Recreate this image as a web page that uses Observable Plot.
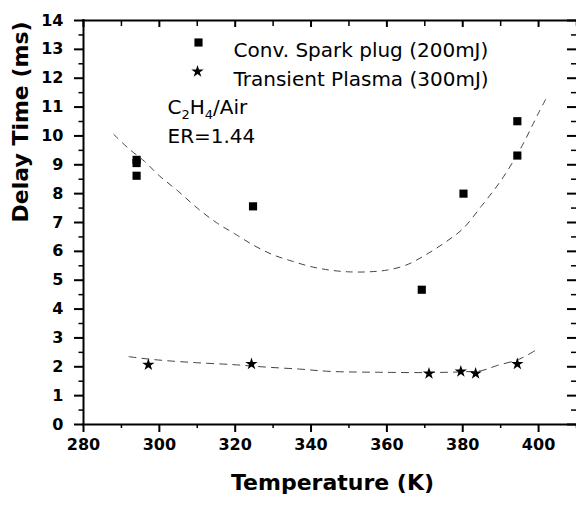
<!DOCTYPE html>
<html><head><meta charset="utf-8">
<script src="https://cdn.jsdelivr.net/npm/d3@7"></script>
<script src="https://cdn.jsdelivr.net/npm/@observablehq/plot@0.6"></script>
<style>
body{margin:0;background:#fff}
svg text{font-family:"DejaVu Sans"}
</style>
</head><body><div id="chart"></div>
<script>
// Conventional spark plug (200 mJ)
const sparkTemp  = [294, 294, 294, 324.7, 369.2, 380.2, 394.4, 394.4];
const sparkDelay = [9.17, 9.06, 8.62, 7.56, 4.67, 8.0, 10.51, 9.32];
// Transient plasma (300 mJ)
const plasmaTemp  = [297.1, 324.3, 371.1, 379.5, 383.4, 394.4];
const plasmaDelay = [2.07, 2.1, 1.77, 1.84, 1.77, 2.1];
// Dashed fit curves
const sparkFitT = [288, 292, 296, 300, 305, 310, 315, 320, 325, 330, 335, 340, 345, 350, 355, 360, 365, 370, 375, 380, 385, 390, 395, 400, 402];
const sparkFitD = [10.05, 9.55, 9.13, 8.62, 8.08, 7.5, 7.0, 6.6, 6.2, 5.88, 5.66, 5.47, 5.35, 5.29, 5.29, 5.35, 5.52, 5.86, 6.28, 6.78, 7.58, 8.44, 9.5, 10.8, 11.3];
const plasmaFitT = [292, 297, 302, 310, 320, 328, 337, 345, 358, 371, 381, 385, 389, 395, 399.3];
const plasmaFitD = [2.35, 2.27, 2.21, 2.14, 2.07, 1.99, 1.92, 1.84, 1.81, 1.80, 1.83, 1.87, 2.04, 2.27, 2.58];
// Axes
const xDomain = [280, 410];
const yDomain = [0, 14];
const xMajor = [280, 300, 320, 340, 360, 380, 400];
const xMinor = [290, 310, 330, 350, 370, 390, 410];
const yMajor = [0,1,2,3,4,5,6,7,8,9,10,11,12,13,14];
const yMinor = [0.5,1.5,2.5,3.5,4.5,5.5,6.5,7.5,8.5,9.5,10.5,11.5,12.5,13.5];
const legendLabels = ["Conv. Spark plug (200mJ)", "Transient Plasma (300mJ)"];
const annotation = ["C2H4/Air", "ER=1.44"];
const xTitle = "Temperature (K)";
const yTitle = "Delay Time (ms)";

const spark = sparkTemp.map((t, i) => ({t, d: sparkDelay[i]}));
const plasma = plasmaTemp.map((t, i) => ({t, d: plasmaDelay[i]}));
const sparkFit = sparkFitT.map((t, i) => ({t, d: sparkFitD[i]}));
const plasmaFit = plasmaFitT.map((t, i) => ({t, d: plasmaFitD[i]}));

// layout (pixels)
const W = 576, H = 506, L = 83, R = 576, T = 20, B = 424;
const ff = {fontFamily: "DejaVu Sans"};
const tickFont = {...ff, fontSize: 16, fontWeight: "bold"};
const ink = {stroke: "black"};

const chart = Plot.plot({
  width: W, height: H,
  marginLeft: 0, marginRight: 0, marginTop: 0, marginBottom: 0,
  x: {domain: xDomain, range: [L, R], axis: null},
  y: {domain: yDomain, range: [B, T], axis: null},
  marks: [
    // titles
    Plot.text([yTitle], {frameAnchor: "left", rotate: -90, dx: 20, dy: (T + B) / 2 - H / 2, fontSize: 22, fontWeight: "bold", ...ff}),
    Plot.text([xTitle], {frameAnchor: "bottom", dx: 44, dy: -17, fontSize: 22, fontWeight: "bold", ...ff}),
    // tick labels
    Plot.text(yMajor, {y: d => d, frameAnchor: "left", dx: L - 20, textAnchor: "end", ...tickFont}),
    Plot.text(xMajor, {x: d => d, frameAnchor: "bottom", dy: -(H - B - 14), lineAnchor: "top", ...tickFont}),
    // fit curves
    Plot.line(sparkFit, {x: "t", y: "d", curve: "catmull-rom", stroke: "#444", strokeWidth: 1, strokeDasharray: "6,6"}),
    Plot.line(plasmaFit, {x: "t", y: "d", curve: "catmull-rom", stroke: "#444", strokeWidth: 1, strokeDasharray: "7,6"}),
    // data
    Plot.dot(spark, {x: "t", y: "d", symbol: "square", fill: "black", r: 4.6}),
    Plot.dot(plasma, {x: "t", y: "d", symbol: "star", fill: "black", r: 3.9}),
    // legend
    Plot.dot([legendLabels[0]], {frameAnchor: "top-left", dx: 198, dy: 42, symbol: "square", fill: "black", r: 4.6}),
    Plot.dot([legendLabels[1]], {frameAnchor: "top-left", dx: 197, dy: 71, symbol: "star", fill: "black", r: 3.9}),
    Plot.text([legendLabels[0]], {frameAnchor: "top-left", dx: 233, dy: 42.6, textAnchor: "start", fontSize: 20, ...ff}),
    Plot.text([legendLabels[1]], {frameAnchor: "top-left", dx: 233, dy: 71.6, textAnchor: "start", fontSize: 20, ...ff}),
    // annotation
    Plot.text([annotation[0]], {frameAnchor: "top-left", dx: 167, dy: 99.6, textAnchor: "start", fontSize: 20, ...ff}),
    Plot.text([annotation[1]], {frameAnchor: "top-left", dx: 167, dy: 128.6, textAnchor: "start", fontSize: 20, ...ff}),
    // axis lines
    Plot.ruleY([yDomain[0], yDomain[1]], {insetLeft: L - 1, strokeWidth: 2, ...ink}),
    Plot.ruleX([xDomain[0]], {insetTop: T - 1, insetBottom: H - B - 1, strokeWidth: 2, ...ink}),
    // major ticks: bottom (out), top (in), left (out), right (in)
    Plot.ruleX(xMajor, {x: d => d, insetTop: B, insetBottom: H - B - 8, strokeWidth: 2, ...ink}),
    Plot.ruleX(xMajor, {x: d => d, insetTop: T, insetBottom: H - T - 7, strokeWidth: 2, ...ink}),
    Plot.ruleY(yMajor, {y: d => d, insetLeft: L - 9, insetRight: W - L, strokeWidth: 2, ...ink}),
    Plot.ruleY(yMajor, {y: d => d, insetLeft: R - 9, strokeWidth: 2, ...ink}),
    // minor ticks
    Plot.ruleX(xMinor, {x: d => d, insetTop: B, insetBottom: H - B - 4, strokeWidth: 1.5, ...ink}),
    Plot.ruleX(xMinor, {x: d => d, insetTop: T, insetBottom: H - T - 6, strokeWidth: 1.5, ...ink}),
    Plot.ruleY(yMinor, {y: d => d, insetLeft: L - 4.5, insetRight: W - L, strokeWidth: 1.5, ...ink}),
    Plot.ruleY(yMinor, {y: d => d, insetLeft: R - 5, strokeWidth: 1.5, ...ink})
  ]
});

// chemical formula subscripts
d3.select(chart).selectAll("text").filter(function() { return this.textContent === annotation[0]; })
  .each(function() {
    const el = d3.select(this);
    el.text(null);
    el.append("tspan").text("C");
    el.append("tspan").attr("dy", 5).attr("font-size", 13).text("2");
    el.append("tspan").attr("dy", -5).text("H");
    el.append("tspan").attr("dy", 5).attr("font-size", 13).text("4");
    el.append("tspan").attr("dy", -5).text("/Air");
  });

document.getElementById("chart").appendChild(chart);
</script>
</body></html>
